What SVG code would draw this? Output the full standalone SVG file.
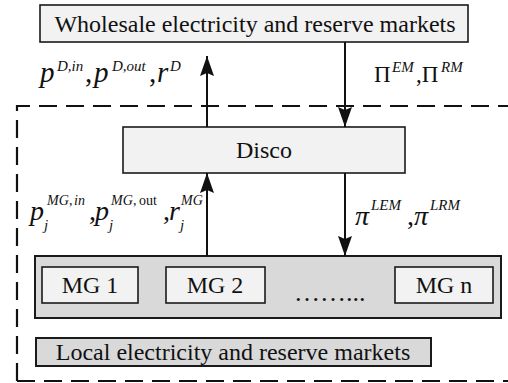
<svg xmlns="http://www.w3.org/2000/svg" width="508" height="383" viewBox="0 0 508 383" font-family="'Times New Roman', 'Liberation Serif', serif">
  <style>
    .box { fill: #f2f2f2; stroke: #1a1a1a; stroke-width: 1.6; }
    .grey { fill: #d9d9d9; stroke: #1a1a1a; stroke-width: 2; }
    .lbl { fill: #111; text-anchor: middle; font-size: 24px; }
    .math { fill: #111; font-style: italic; }
    .up { font-style: normal; }
    .wire { stroke: #111; stroke-width: 2; fill: none; }
    .dash { stroke: #111; stroke-width: 2.2; fill: none; stroke-dasharray: 18 9; }
  </style>
  <defs>
    <marker id="head" viewBox="0 0 20 14" refX="20" refY="7" markerWidth="20" markerHeight="14" markerUnits="userSpaceOnUse" orient="auto">
      <path d="M0,0 L20,7 L0,14 L3,7 Z" fill="#111"/>
    </marker>
  </defs>

  <rect width="508" height="383" fill="#ffffff"/>

  <!-- dashed boundary of the distribution area -->
  <path class="dash" d="M17,381 V106 H530 M17,381 H530"/>

  <g id="wholesale">
    <rect class="box" x="40" y="5" width="428" height="37"/>
    <text class="lbl" x="255" y="32">Wholesale electricity and reserve markets</text>
  </g>

  <g id="disco">
    <rect class="box" x="123" y="127" width="282" height="46"/>
    <text class="lbl" x="264" y="158">Disco</text>
  </g>

  <g id="microgrids">
    <rect class="grey" x="35" y="256" width="466" height="62"/>
    <g id="mg1">
      <rect class="box" x="42" y="267" width="96" height="36"/>
      <text class="lbl" x="90" y="293">MG 1</text>
    </g>
    <g id="mg2">
      <rect class="box" x="166" y="267" width="99" height="36"/>
      <text class="lbl" x="215" y="293">MG 2</text>
    </g>
    <text x="294" y="301" font-size="26" fill="#111">……...</text>
    <g id="mgn">
      <rect class="box" x="395" y="267" width="98" height="36"/>
      <text class="lbl" x="444" y="293">MG n</text>
    </g>
  </g>

  <g id="local">
    <rect class="grey" x="36" y="338" width="395" height="28"/>
    <text class="lbl" x="233" y="360">Local electricity and reserve markets</text>
  </g>

  <g id="connectors">
    <line class="wire" x1="207" y1="127" x2="207" y2="56" marker-end="url(#head)"/>
    <line class="wire" x1="345" y1="42" x2="345" y2="127" marker-end="url(#head)"/>
    <line class="wire" x1="207" y1="256" x2="207" y2="173" marker-end="url(#head)"/>
    <line class="wire" x1="345" y1="173" x2="345" y2="256" marker-end="url(#head)"/>
  </g>

  <g id="labels">
    <text class="math" font-size="29">
      <tspan x="40" y="82">p</tspan><tspan font-size="15" x="57" y="71">D,in</tspan><tspan class="up" x="85" y="82">,</tspan><tspan x="94" y="82">p</tspan><tspan font-size="15" x="112" y="71">D,out</tspan><tspan class="up" x="149" y="82">,</tspan><tspan x="157" y="82">r</tspan><tspan font-size="15" x="170" y="71">D</tspan>
    </text>
    <text class="math" font-size="23">
      <tspan class="up" x="374" y="82">Π</tspan><tspan font-size="15" x="392" y="72">EM</tspan><tspan class="up" x="416" y="82">,Π</tspan><tspan font-size="15" x="441" y="72">RM</tspan>
    </text>
    <text class="math" font-size="28">
      <tspan x="30" y="220">p</tspan><tspan font-size="14" x="47" y="205">MG</tspan><tspan font-size="14" class="up" x="69" y="205">,</tspan><tspan font-size="14" x="74" y="205">in</tspan><tspan font-size="15" x="44" y="230">j</tspan>
      <tspan class="up" x="89" y="220">,</tspan><tspan x="95" y="220">p</tspan><tspan font-size="14" x="111" y="205">MG</tspan><tspan font-size="14" class="up" x="133" y="205">,</tspan><tspan font-size="14" class="up" x="139" y="205">out</tspan><tspan font-size="15" x="109" y="230">j</tspan>
      <tspan class="up" x="163" y="220">,</tspan><tspan x="169" y="220">r</tspan><tspan font-size="14" x="181" y="205">MG</tspan><tspan font-size="15" x="180" y="230">j</tspan>
    </text>
    <text class="math" font-size="28">
      <tspan x="355" y="225">π</tspan><tspan font-size="15" x="371" y="210">LEM</tspan><tspan class="up" x="407" y="225">,</tspan><tspan x="414" y="225">π</tspan><tspan font-size="15" x="430" y="210">LRM</tspan>
    </text>
  </g>
</svg>
